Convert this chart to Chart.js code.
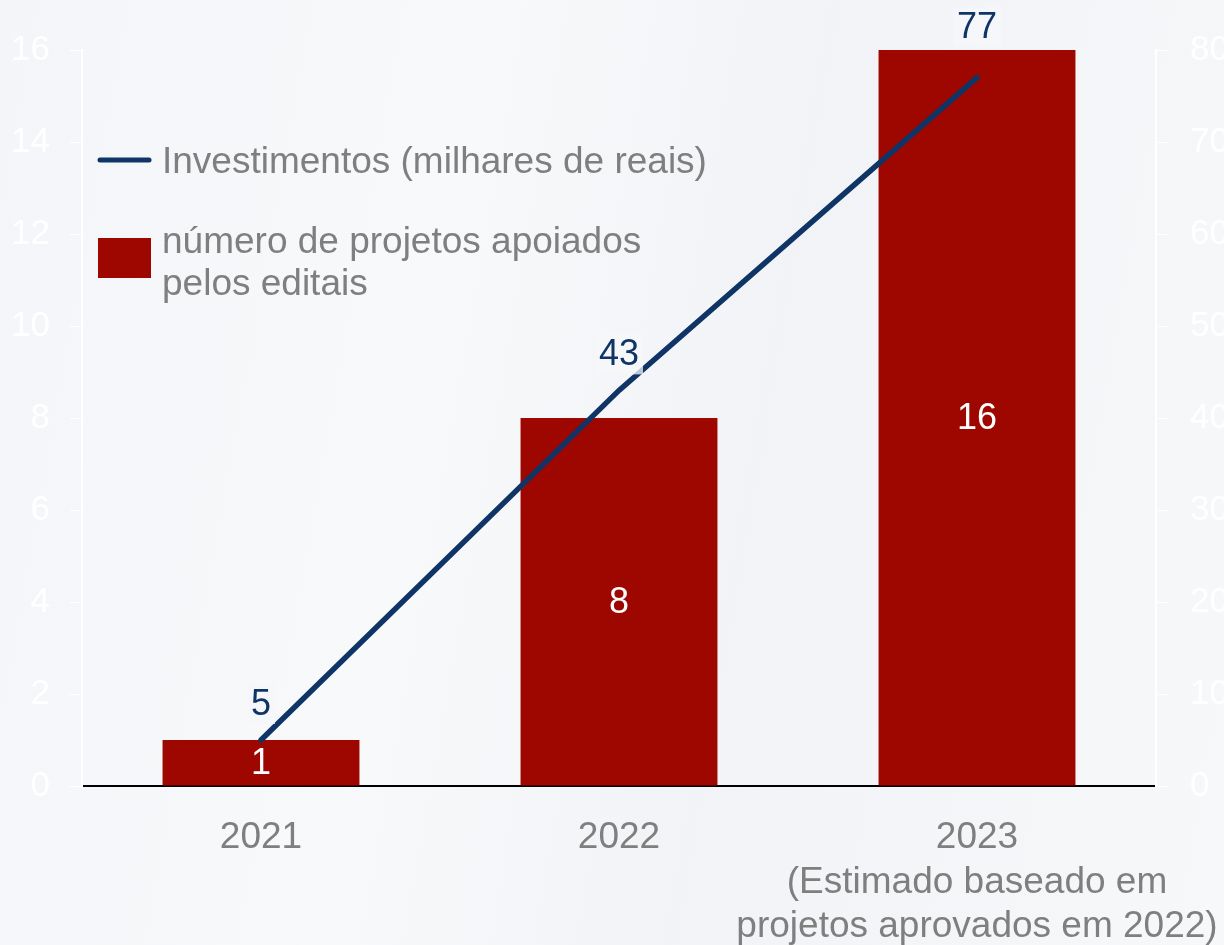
<!DOCTYPE html>
<html>
<head>
<meta charset="utf-8">
<script src="https://cdn.jsdelivr.net/npm/chart.js@4"></script>
<style>
  html, body { margin: 0; padding: 0; }
  body {
    width: 1224px; height: 945px; overflow: hidden;
    background: linear-gradient(100deg, #f4f5f8 0%, #f8f9fb 35%, #f2f3f6 60%, #f7f8fa 100%);
  }
  #wrap { position: relative; width: 1224px; height: 945px; }
</style>
</head>
<body>
<div id="wrap"><canvas id="myChart"></canvas></div>
<script>
// data
const years = [['2021'], ['2022'], ['2023', '(Estimado baseado em', 'projetos aprovados em 2022)']];
const projetos = [1, 8, 16];
const investimentos = [5, 43, 77];
const leftTicks = [0, 2, 4, 6, 8, 10, 12, 14, 16];
const rightTicks = [0, 10, 20, 30, 40, 50, 60, 70, 80];

const RED = '#9e0700';
const BLUE = '#0f3466';
const GRAY = '#7f7f7f';
const FONT = '"Liberation Sans", Arial, sans-serif';

Chart.defaults.font.family = FONT;

// labels on top of the marks
const valueLabels = {
    id: 'valueLabels',
    afterDatasetsDraw(chart) {
        const c = chart.ctx;
        const bars = chart.getDatasetMeta(1).data;
        c.save();
        c.font = '36px ' + FONT;
        c.textAlign = 'center';
        c.textBaseline = 'middle';
        // bars: white number in the middle
        bars.forEach((bar, i) => {
            const mid = (bar.y + bar.base) / 2;
            c.fillStyle = '#ffffff';
            c.fillText(projetos[i], bar.x, mid + 1);
        });
        // line: blue number above the point, moved up if it would sit on the bar top
        chart.getDatasetMeta(0).data.forEach((pt, i) => {
            const txt = String(investimentos[i]);
            const w = c.measureText(txt).width;
            let y = pt.y - 36;
            if (y + 20 > bars[i].y && y - 20 < bars[i].y) y = bars[i].y - 23;
            c.fillStyle = 'rgba(246,247,250,0.75)';
            c.fillRect(pt.x - w / 2 - 4, y - 20, w + 8, 40);
            c.fillStyle = BLUE;
            c.fillText(txt, pt.x, y + 1);
        });
        c.restore();
    }
};

// legend inside the plot
const innerLegend = {
    id: 'innerLegend',
    afterDraw(chart) {
        const c = chart.ctx;
        const ds = chart.data.datasets;
        c.save();
        c.font = '37px ' + FONT;
        c.textBaseline = 'middle';
        c.fillStyle = GRAY;
        // line entry
        c.strokeStyle = ds[0].borderColor;
        c.lineWidth = 5;
        c.lineCap = 'round';
        c.beginPath();
        c.moveTo(100, 160);
        c.lineTo(149, 160);
        c.stroke();
        c.fillText(ds[0].label, 162, 163);
        // bar entry
        c.fillStyle = ds[1].backgroundColor;
        c.fillRect(98, 238, 53, 40);
        c.fillStyle = GRAY;
        const parts = ds[1].label.split('\n');
        parts.forEach((p, i) => c.fillText(p, 162, 243 + i * 42));
        c.restore();
    }
};

const ctx = document.getElementById('myChart');
ctx.width = 1224;
ctx.height = 945;

new Chart(ctx, {
    data: {
        labels: years,
        datasets: [{
            type: 'line',
            label: 'Investimentos (milhares de reais)',
            data: investimentos,
            yAxisID: 'y1',
            borderColor: BLUE,
            borderWidth: 5.5,
            borderCapStyle: 'round',
            pointRadius: 0,
            tension: 0,
            order: 0
        }, {
            type: 'bar',
            label: 'número de projetos apoiados\npelos editais',
            data: projetos,
            yAxisID: 'y',
            backgroundColor: RED,
            categoryPercentage: 0.55,
            barPercentage: 1,
            order: 1
        }]
    },
    options: {
        responsive: false,
        animation: false,
        layout: { padding: { top: 50, left: 0, right: 0, bottom: 0 } },
        plugins: {
            legend: { display: false },
            tooltip: { enabled: false }
        },
        scales: {
            x: {
                grid: { display: false, drawTicks: false },
                border: { color: '#000000', width: 2 },
                ticks: {
                    color: GRAY,
                    font: { size: 37 },
                    padding: 30,
                    maxRotation: 0,
                    autoSkip: false
                },
                afterFit(s) {
                    s.height = 159;
                    s.paddingLeft = 0;
                    s.paddingRight = 0;
                }
            },
            y: {
                position: 'left',
                min: 0,
                max: 16,
                afterBuildTicks(s) { s.ticks = leftTicks.map(v => ({ value: v })); },
                grid: { drawOnChartArea: false, color: '#ffffff', tickLength: 12 },
                border: { color: '#ffffff', width: 2 },
                ticks: { color: '#ffffff', font: { size: 35 }, padding: 20 },
                afterFit(s) { s.width = 82; }
            },
            y1: {
                position: 'right',
                min: 0,
                max: 80,
                afterBuildTicks(s) { s.ticks = rightTicks.map(v => ({ value: v })); },
                grid: { drawOnChartArea: false, color: '#ffffff', tickLength: 12 },
                border: { color: '#ffffff', width: 2 },
                ticks: { color: '#ffffff', font: { size: 35 }, padding: 22 },
                afterFit(s) { s.width = 68; }
            }
        }
    },
    plugins: [valueLabels, innerLegend]
});
</script>
</body>
</html>
